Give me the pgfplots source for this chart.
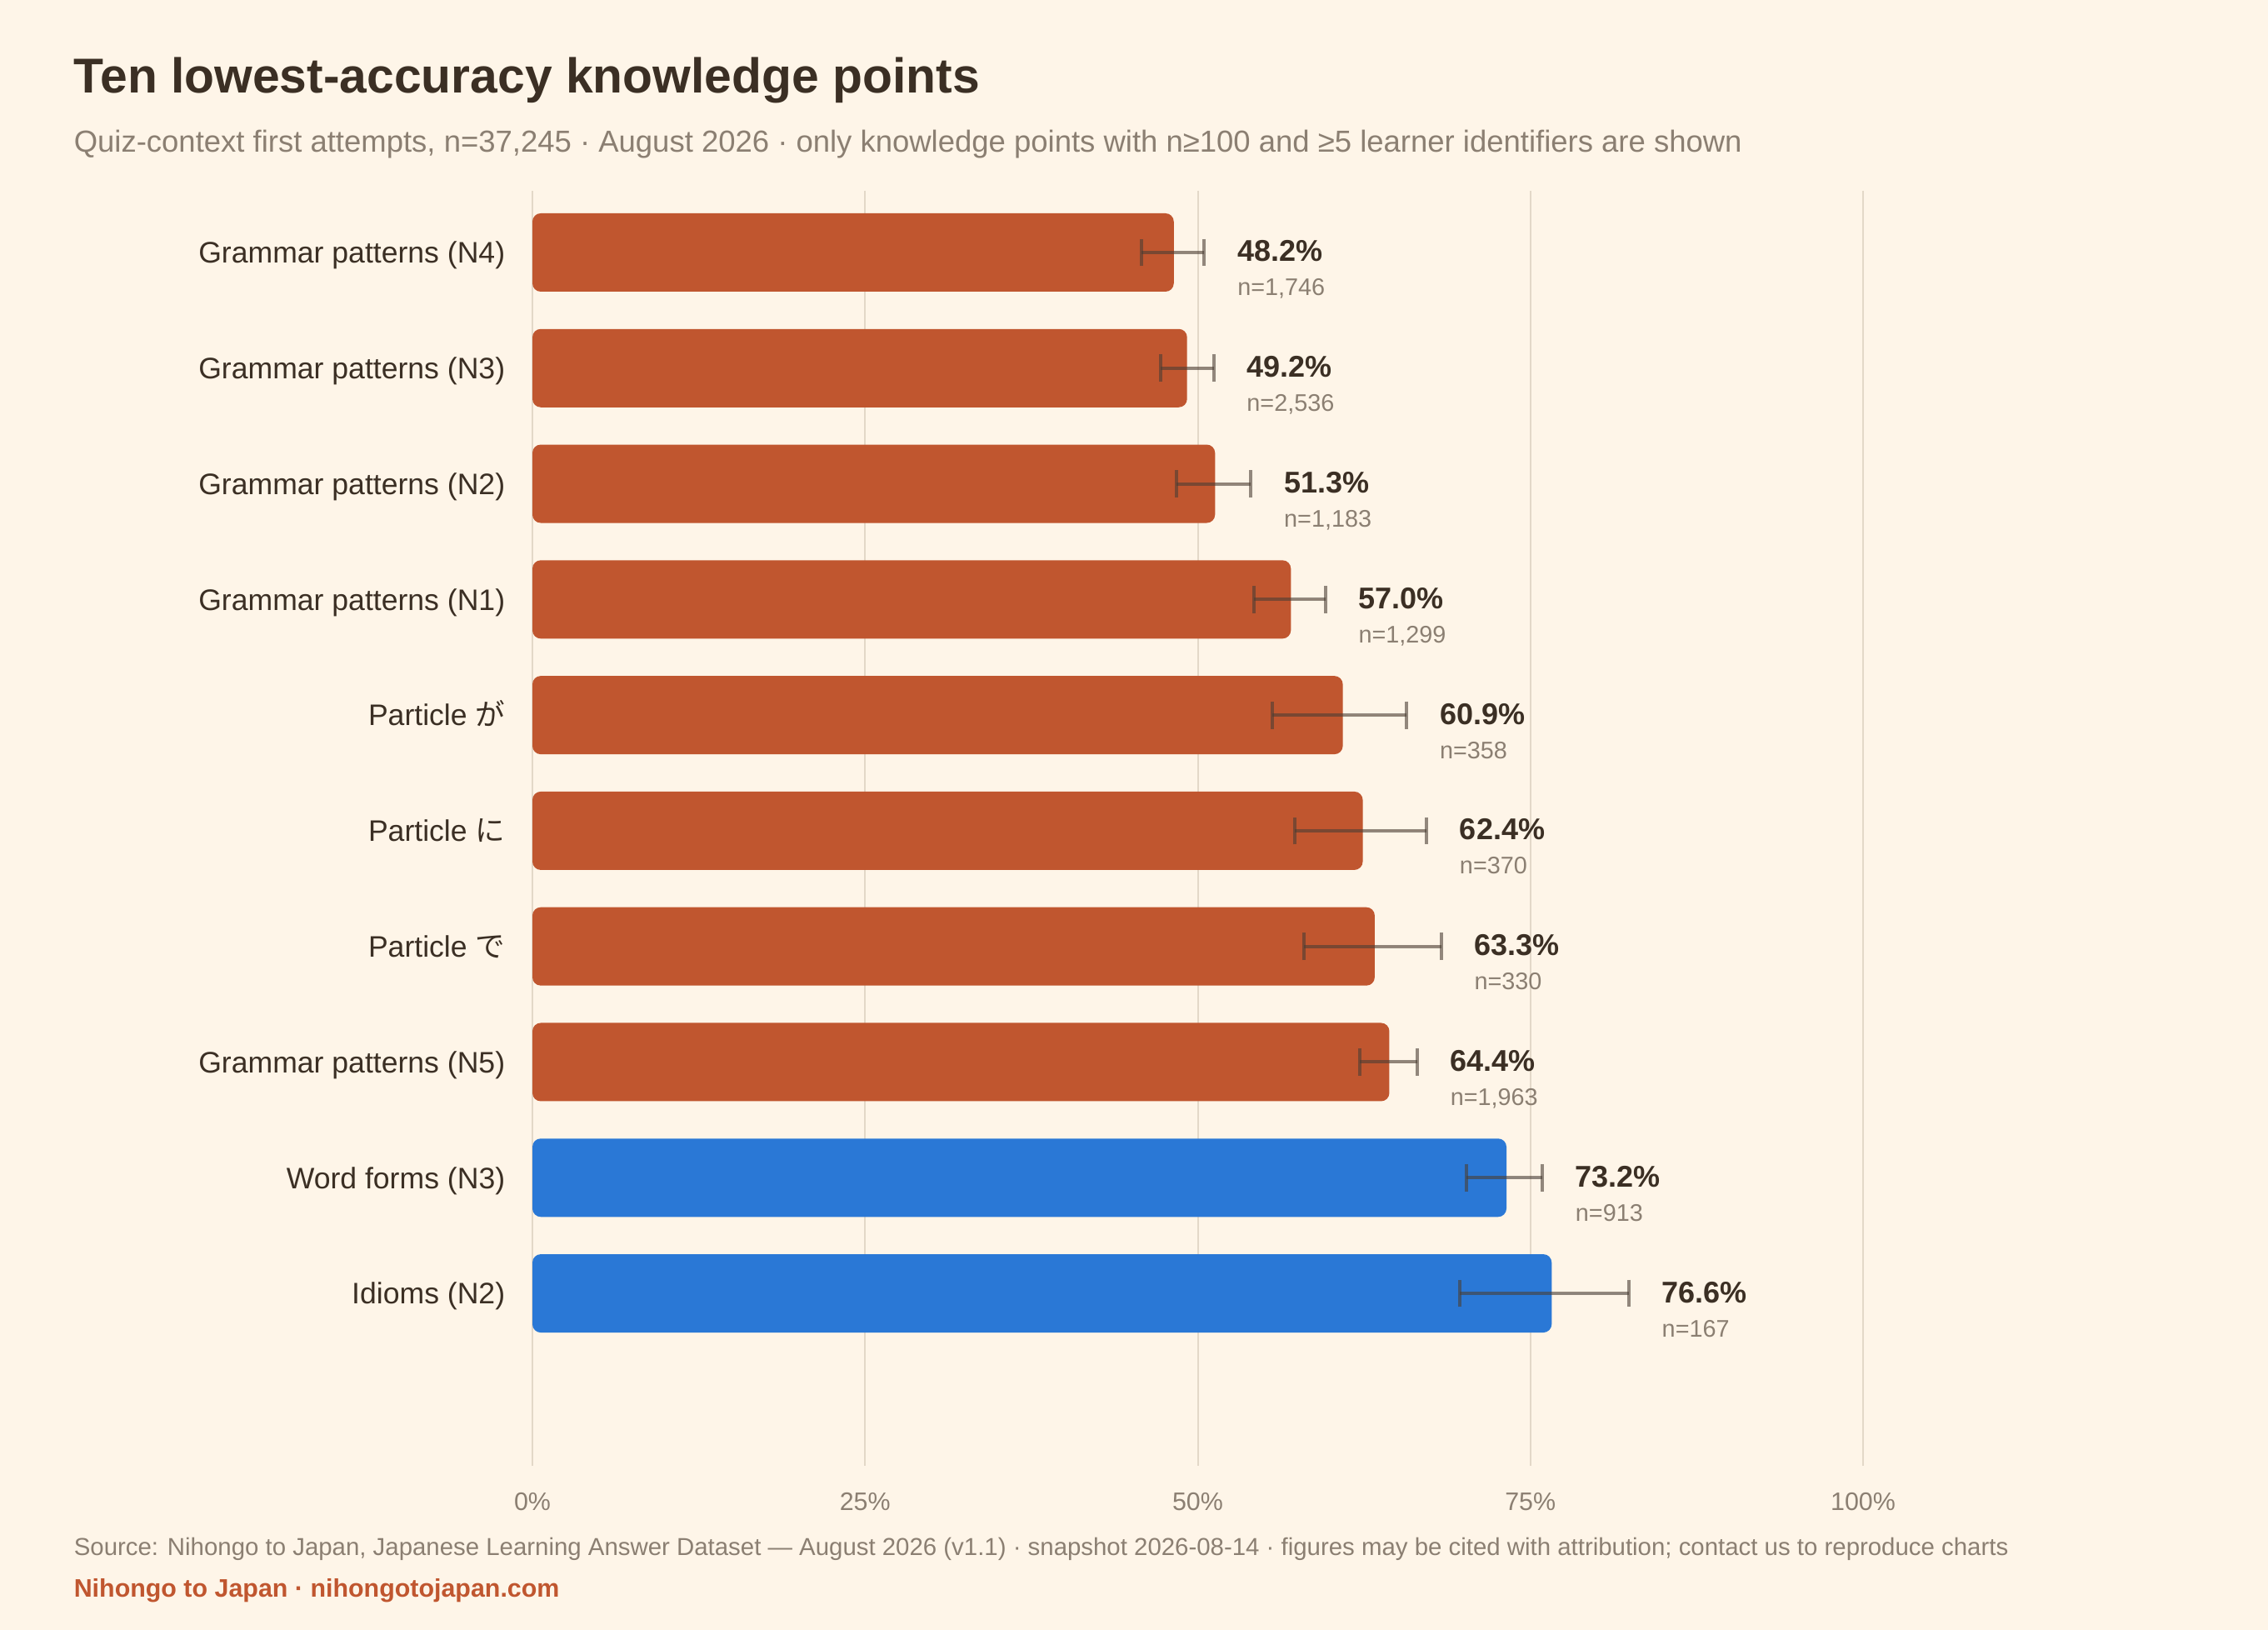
\documentclass[border=0pt]{standalone}
\usepackage{pgfplots}
\pgfplotsset{compat=1.18}
\usepackage{fontspec}
\setmainfont{Liberation Sans}
\newfontfamily\cjk{Noto Sans CJK JP}
\definecolor{bg}{HTML}{FEF5E8}
\definecolor{titlec}{HTML}{3B2F24}
\definecolor{subc}{HTML}{8B7F72}
\definecolor{barO}{HTML}{C0562F}
\definecolor{barB}{HTML}{2A78D6}
\definecolor{gridc}{HTML}{E3D8C8}
\definecolor{errc}{HTML}{4A3E34}
\pgfplotsset{
  myerr/.style={
    error bars/.cd, x dir=both, x explicit, error mark=|,
    error bar style={line width=1pt, draw=errc, draw opacity=0.6, rounded corners=0pt},
    error mark options={line width=1pt, draw=errc, draw opacity=0.6, mark size=4.1pt, rotate=0},
  },
}
\begin{document}
\begin{tikzpicture}
\fill[bg] (0,0) rectangle (680.5pt,489pt);
\node[anchor=base west, inner sep=0pt, font=\fontsize{14.7}{16}\selectfont\bfseries, text=titlec] at (22pt,461pt) {Ten lowest-accuracy knowledge points};
\node[anchor=base west, inner sep=0pt, font=\fontsize{9.12}{10}\selectfont, text=subc] at (22pt,443.25pt) {Quiz-context first attempts, n=37,245 · August 2026 · only knowledge points with n≥100 and ≥5 learner identifiers are shown};
\node[anchor=base west, inner sep=0pt, font=\fontsize{7.35}{9}\selectfont, text=subc] at (22pt,22.25pt) {Source: Nihongo to Japan, Japanese Learning Answer Dataset — August 2026 (v1.1) · snapshot 2026-08-14 · figures may be cited with attribution; contact us to reproduce charts};
\node[anchor=base west, inner sep=0pt, font=\fontsize{7.6}{9}\selectfont\bfseries, text=barO] at (22pt,9.75pt) {Nihongo to Japan · nihongotojapan.com};
\begin{axis}[
  at={(159.75pt,49.25pt)}, anchor=south west,
  scale only axis, width=399.25pt, height=382.5pt,
  xmin=0, xmax=100, ymin=-0.533, ymax=10.491, y dir=reverse,
  axis line style={draw=none}, major tick length=0pt,
  xtick={0,25,50,75,100},
  xticklabels={0\%,25\%,50\%,75\%,100\%},
  xticklabel style={anchor=base, yshift=-13.5pt, inner sep=0pt, font=\fontsize{7.6}{9}\selectfont, text=subc},
  ytick={0,1,2,3,4,5,6,7,8,9},
  yticklabels={Grammar patterns (N4),Grammar patterns (N3),Grammar patterns (N2),Grammar patterns (N1),Particle {\cjk が},Particle {\cjk に},Particle {\cjk で},Grammar patterns (N5),Word forms (N3),Idioms (N2)},
  yticklabel style={anchor=base east, inner sep=0pt, xshift=-8pt, yshift=-3.2pt, font=\fontsize{8.9}{10}\selectfont, text=titlec},
  xmajorgrids, grid style={gridc, line width=0.5pt},
  clip=false,
]
\addplot[xbar, bar shift=0pt, bar width=23.5pt, fill=barO, draw=none, rounded corners=2.5pt, myerr]
coordinates {
  (48.2,0) += (2.3,0) -= (2.4,0)
  (49.2,1) += (2.0,0) -= (2.0,0)
  (51.3,2) += (2.7,0) -= (2.9,0)
  (57.0,3) += (2.6,0) -= (2.8,0)
  (60.9,4) += (4.8,0) -= (5.3,0)
  (62.4,5) += (4.8,0) -= (5.1,0)
  (63.3,6) += (5.0,0) -= (5.3,0)
  (64.4,7) += (2.1,0) -= (2.2,0)
};
\addplot[xbar, bar shift=0pt, bar width=23.5pt, fill=barB, draw=none, rounded corners=2.5pt, myerr]
coordinates {
  (73.2,8) += (2.7,0) -= (3.0,0)
  (76.6,9) += (5.8,0) -= (6.9,0)
};
\addplot[draw=none, mark=none, point meta=explicit symbolic,
  nodes near coords, nodes near coords style={anchor=base west, inner sep=0pt, xshift=9.75pt, yshift=-2.75pt, font=\fontsize{9}{10}\selectfont\bfseries, text=titlec}]
coordinates {
  (50.5,0) [48.2\%]
  (51.2,1) [49.2\%]
  (54.0,2) [51.3\%]
  (59.6,3) [57.0\%]
  (65.7,4) [60.9\%]
  (67.2,5) [62.4\%]
  (68.3,6) [63.3\%]
  (66.5,7) [64.4\%]
  (75.9,8) [73.2\%]
  (82.4,9) [76.6\%]
};
\addplot[draw=none, mark=none, point meta=explicit symbolic,
  nodes near coords, nodes near coords style={anchor=base west, inner sep=0pt, xshift=9.75pt, yshift=-13pt, font=\fontsize{7.2}{9}\selectfont, text=subc}]
coordinates {
  (50.5,0) [n=1{,}746]
  (51.2,1) [n=2{,}536]
  (54.0,2) [n=1{,}183]
  (59.6,3) [n=1{,}299]
  (65.7,4) [n=358]
  (67.2,5) [n=370]
  (68.3,6) [n=330]
  (66.5,7) [n=1{,}963]
  (75.9,8) [n=913]
  (82.4,9) [n=167]
};
\end{axis}
\end{tikzpicture}
\end{document}
